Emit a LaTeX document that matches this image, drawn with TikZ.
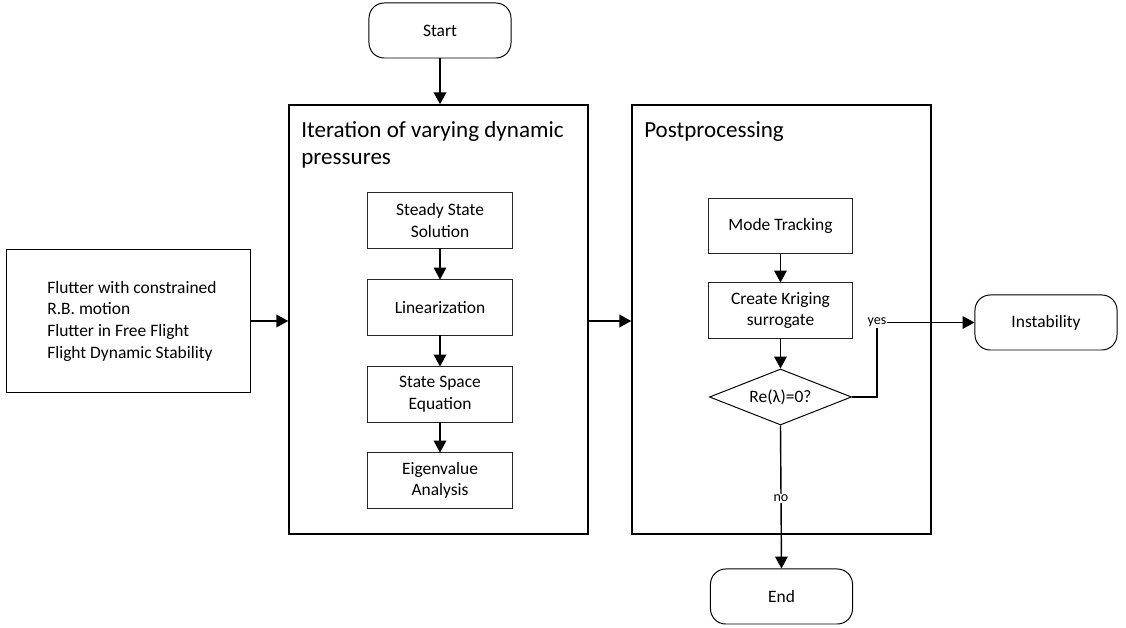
\documentclass[tikz,border=0pt]{standalone}
\usepackage{fontspec}
\setmainfont{Carlito}
\usetikzlibrary{arrows.meta,shapes.geometric}
\begin{document}
\begin{tikzpicture}[x=0.025cm,y=-0.025cm,
  every node/.style={font=\fontsize{12.4}{15.4}\selectfont},
  term/.style={draw=black,line width=0.7pt,rounded corners=0.38cm,minimum width=3.55cm,minimum height=1.375cm,align=center},
  proc/.style={draw=black!85,line width=0.7pt,minimum width=3.6cm,minimum height=1.375cm,align=center},
  frame/.style={draw=black,line width=1pt,minimum width=7.475cm,minimum height=10.725cm},
  title/.style={anchor=north west,align=left,inner sep=0pt,font=\fontsize{16.4}{19.5}\selectfont},
  dec/.style={draw=black,line width=0.7pt,diamond,aspect=2.55,minimum width=3.55cm,minimum height=1.4cm,inner sep=0pt},
  arr/.style={line width=1pt,-{Triangle[length=8.5pt,width=9pt]}},
  lbl/.style={fill=white,inner sep=0.5pt,font=\fontsize{10}{12}\selectfont}
]
\useasboundingbox (0,0) rectangle (1126,628);
% terminals
\node[term] (start) at (440,30.5) {Start};
\node[term] (instab) at (1046,322.5) {Instability};
\node[term] (end) at (781.5,596.5) {End};
% input box
\node[draw=black,line width=0.7pt,minimum width=6.075cm,minimum height=3.55cm] (inp) at (128.5,321) {};
\node[anchor=west,align=left,inner sep=0pt] (inptext) at (47,321) {Flutter with constrained\\R.B. motion\\Flutter in Free Flight\\Flight Dynamic Stability};
% frames
\node[frame] (iter) at (438.5,319.5) {};
\node[title] (itertitle) at (301,121) {Iteration of varying dynamic\\pressures};
\node[frame] (post) at (781.5,319.5) {};
\node[title] (posttitle) at (644,121) {Postprocessing};
% iteration steps
\node[proc] (s1) at (440,220.5) {Steady State\\Solution};
\node[proc] (s2) at (440,307.5) {Linearization};
\node[proc] (s3) at (440,394.5) {State Space\\Equation};
\node[proc] (s4) at (440,480.5) {Eigenvalue\\Analysis};
% postprocessing steps
\node[proc] (p1) at (780.5,226) {Mode Tracking};
\node[proc] (p2) at (780.5,310.5) {Create Kriging\\surrogate};
\node[dec] (d) at (780.5,397) {Re(λ)=0?};
\coordinate (yc) at (877,322.5);
% connectors
\draw[arr] (start) -- (iter.north -| start);
\draw[arr] (inp) -- (inp -| iter.west);
\draw[arr] (iter.east |- inp) -- (post.west |- inp);
\draw[arr] (s1) -- (s2);
\draw[arr] (s2) -- (s3);
\draw[arr] (s3) -- (s4);
\draw[arr] (p1) -- (p2);
\draw[arr] (p2) -- (d);
\draw[arr] (d.east) -| (yc) -- (instab.west);
\node[lbl] (yes) at (yc) {yes};
\draw[arr] (d.south) -- node[lbl,pos=0.51] (no) {no} (end.north);
\end{tikzpicture}
\end{document}
